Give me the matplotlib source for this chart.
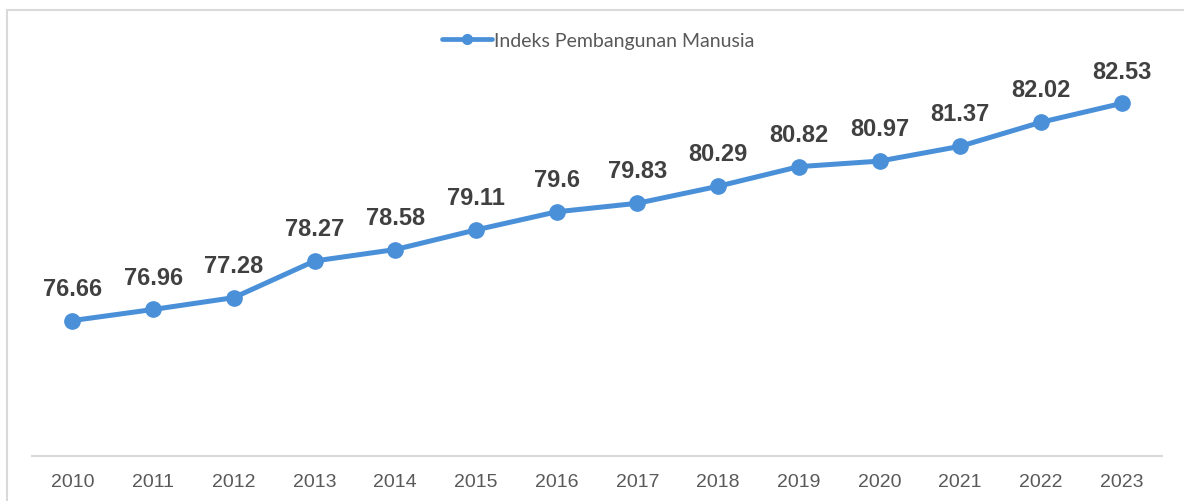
import matplotlib.pyplot as plt
from matplotlib.lines import Line2D

# Data
years = ['2010', '2011', '2012', '2013', '2014', '2015', '2016',
         '2017', '2018', '2019', '2020', '2021', '2022', '2023']
ipm = [76.66, 76.96, 77.28, 78.27, 78.58, 79.11, 79.6,
       79.83, 80.29, 80.82, 80.97, 81.37, 82.02, 82.53]
labels = ['76.66', '76.96', '77.28', '78.27', '78.58', '79.11', '79.6',
          '79.83', '80.29', '80.82', '80.97', '81.37', '82.02', '82.53']

color = '#4A90D9'

fig = plt.figure(figsize=(11.84, 5.02), dpi=100)
ax = fig.add_axes([32 / 1184, 1 - 457 / 502, (1162 - 32) / 1184, (457 - 50) / 502])

x = list(range(len(years)))
ax.plot(x, ipm, color=color, linewidth=3.6, marker='o', markersize=11,
        label='Indeks Pembangunan Manusia', solid_capstyle='round')

for xi, yi, lab in zip(x, ipm, labels):
    ax.annotate(lab, (xi, yi), xytext=(0, 15), textcoords='offset points',
                ha='center', va='bottom', fontsize=17, fontweight='bold',
                color='#404040', family='Liberation Sans')

ax.set_xlim(-0.5, len(years) - 0.5)
ax.set_ylim(73, 84)
ax.set_xticks(x)
ax.set_xticklabels(years, fontsize=14, color='#595959', family='Liberation Sans')
ax.set_yticks([])
ax.tick_params(axis='x', length=0, pad=12)
for s in ['left', 'right', 'top']:
    ax.spines[s].set_visible(False)
ax.spines['bottom'].set_color('#D9D9D9')
ax.spines['bottom'].set_linewidth(1.5)

leg = fig.legend(loc='center', bbox_to_anchor=(598 / 1184, 1 - 41 / 502),
                 frameon=False, handlelength=2.6, handletextpad=0.1,
                 prop={'family': 'Lato', 'size': 14})
for t in leg.get_texts():
    t.set_color('#595959')
for h in leg.legend_handles:
    h.set_markersize(7)
    h.set_linewidth(3.4)

# chart frame (left and top edges visible)
fig.add_artist(Line2D([6.5 / 1184, 6.5 / 1184], [0, 1 - 10.5 / 502],
                      transform=fig.transFigure, color='#D9D9D9', linewidth=1.5))
fig.add_artist(Line2D([6.5 / 1184, 1], [1 - 10.5 / 502, 1 - 10.5 / 502],
                      transform=fig.transFigure, color='#D9D9D9', linewidth=1.5))

fig.savefig('out.png', dpi=100)
